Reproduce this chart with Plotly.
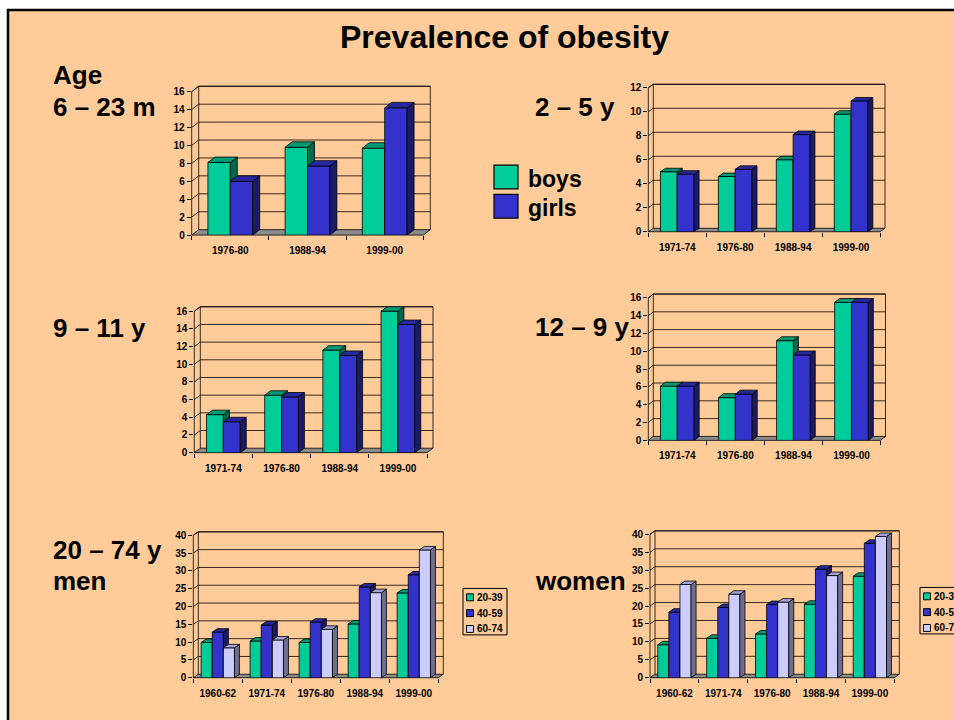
import plotly.graph_objects as go

W, H = 954, 720
BG = "#FFCC99"
FONT = "Liberation Sans, Arial, sans-serif"

# ---------------- data ----------------
cat_623m = ["1976-80", "1988-94", "1999-00"]
boys_623m = [8.1, 9.8, 9.7]
girls_623m = [6.0, 7.7, 14.2]

cat_child = ["1971-74", "1976-80", "1988-94", "1999-00"]
boys_25y = [5.0, 4.6, 6.0, 9.8]
girls_25y = [4.8, 5.2, 8.1, 10.9]

boys_911y = [4.3, 6.5, 11.6, 16.0]
girls_911y = [3.5, 6.3, 11.0, 14.5]

boys_1219y = [6.1, 4.8, 11.2, 15.5]
girls_1219y = [6.1, 5.2, 9.6, 15.5]

cat_adult = ["1960-62", "1971-74", "1976-80", "1988-94", "1999-00"]
men_2039 = [9.9, 10.3, 9.9, 15.1, 23.8]
men_4059 = [12.8, 14.8, 15.6, 25.5, 28.9]
men_6074 = [8.4, 10.6, 13.6, 23.9, 35.9]
women_2039 = [9.2, 11.0, 12.2, 20.5, 28.3]
women_4059 = [18.3, 19.6, 20.4, 30.3, 37.5]
women_6074 = [26.0, 23.3, 21.1, 28.5, 39.4]

child_names = ["boys", "girls"]
adult_names = ["20-39", "40-59", "60-74"]

# ---------------- styles ----------------
GREEN = dict(front="#00CC99", top="#009973", side="#00664C")
BLUE = dict(front="#3333CC", top="#28289E", side="#1A1A66")
LAV = dict(front="#CCCCFF", top="#A3A3D6", side="#6E6E8F")

panels = [
    dict(cats=cat_623m, series=[boys_623m, girls_623m], names=child_names, colors=[GREEN, BLUE],
         X0=191.7, X1=423.3, Y0=235.7, YT=90.7, dx=7, dy=5.5, ymax=16, dtick=2, bw=0.29),
    dict(cats=cat_child, series=[boys_25y, girls_25y], names=child_names, colors=[GREEN, BLUE],
         X0=648.3, X1=880.0, Y0=232.3, YT=86.7, dx=5, dy=3.5, ymax=12, dtick=2, bw=0.29),
    dict(cats=cat_child, series=[boys_911y, girls_911y], names=child_names, colors=[GREEN, BLUE],
         X0=194.3, X1=427.0, Y0=455.7, YT=312.7, dx=6, dy=4.5, ymax=16, dtick=2, bw=0.29),
    dict(cats=cat_child, series=[boys_1219y, girls_1219y], names=child_names, colors=[GREEN, BLUE],
         X0=648.3, X1=880.5, Y0=443.3, YT=299.3, dx=5, dy=4, ymax=16, dtick=2, bw=0.29),
    dict(cats=cat_adult, series=[men_2039, men_4059, men_6074], names=adult_names, colors=[GREEN, BLUE, LAV],
         X0=193.3, X1=438.3, Y0=683.3, YT=539.3, dx=5, dy=3.5, ymax=40, dtick=5, bw=0.227),
    dict(cats=cat_adult, series=[women_2039, women_4059, women_6074], names=adult_names, colors=[GREEN, BLUE, LAV],
         X0=650.0, X1=894.3, Y0=683.3, YT=538.3, dx=5, dy=3.5, ymax=40, dtick=5, bw=0.227),
]


def px(x):
    return x / W


def py(y):
    return 1 - y / H


fig = go.Figure()
shapes = []
annotations = []

# slide background with frame
shapes.append(dict(type="rect", xref="paper", yref="paper", x0=px(8), x1=px(W + 10),
                   y0=py(8), y1=py(H + 10), fillcolor=BG, line=dict(color="black", width=2.5),
                   layer="below"))

tickfont = dict(family=FONT, size=10, color="black", weight="bold")
LW = 0.8
k = 0
for p in panels:
    n = len(p["cats"])
    ns = len(p["series"])
    X0, X1, Y0, YT, dx, dy, ymax = p["X0"], p["X1"], p["Y0"], p["YT"], p["dx"], p["dy"], p["ymax"]
    ppx = (X1 - X0) / n
    ppy = (Y0 - YT) / ymax
    ddx, ddy = dx / ppx, dy / ppy
    xr = [-0.5, n - 0.5 + ddx]
    yr = [0, ymax + ddy]
    dom_x = [px(X0), px(X1 + dx)]
    dom_y = [py(Y0), py(YT - dy)]
    ticks = list(range(0, ymax + 1, p["dtick"]))

    # floor
    shapes.append(dict(type="path", xref="paper", yref="paper", layer="below",
                       path=f"M{px(X0)},{py(Y0)} L{px(X1)},{py(Y0)} L{px(X1+dx)},{py(Y0-dy)} L{px(X0+dx)},{py(Y0-dy)} Z",
                       fillcolor="#8C8C8C", line=dict(color="black", width=LW)))
    # back wall outline
    shapes.append(dict(type="path", xref="paper", yref="paper", layer="below",
                       path=f"M{px(X0+dx)},{py(Y0-dy)} L{px(X0+dx)},{py(YT-dy)} L{px(X1+dx)},{py(YT-dy)} L{px(X1+dx)},{py(Y0-dy)}",
                       line=dict(color="black", width=LW)))
    # front axis line and left wall top
    shapes.append(dict(type="path", xref="paper", yref="paper", layer="below",
                       path=f"M{px(X0)},{py(Y0)} L{px(X0)},{py(YT)} L{px(X0+dx)},{py(YT-dy)}",
                       line=dict(color="black", width=LW)))
    # gridlines on back wall + side wall
    for t in ticks[1:]:
        yy = Y0 - t * ppy
        shapes.append(dict(type="path", xref="paper", yref="paper", layer="below",
                           path=f"M{px(X0)},{py(yy)} L{px(X0+dx)},{py(yy-dy)} L{px(X1+dx)},{py(yy-dy)}",
                           line=dict(color="black", width=LW)))

    base = None
    for s in range(ns):
        k += 1
        xa = "x" if k == 1 else f"x{k}"
        ya = "y" if k == 1 else f"y{k}"
        xkey = "xaxis" if k == 1 else f"xaxis{k}"
        ykey = "yaxis" if k == 1 else f"yaxis{k}"
        if s == 0:
            base = (xa, ya)
            fig.update_layout(**{
                xkey: dict(domain=dom_x, range=xr, anchor=ya, tickmode="array",
                           tickvals=list(range(n)), ticktext=p["cats"], ticks="outside",
                           ticklen=6, tickcolor="rgba(0,0,0,0)", showgrid=False, zeroline=False,
                           showline=False, tickfont=tickfont, fixedrange=True,
                           minor=dict(tickmode="array", tickvals=[i - 0.5 for i in range(n + 1)],
                                      ticks="outside", ticklen=4, tickcolor="black", tickwidth=1,
                                      showgrid=False)),
                ykey: dict(domain=dom_y, range=yr, anchor=xa, tickmode="array", tickvals=ticks,
                           ticks="outside", ticklen=4, tickcolor="black", tickwidth=1,
                           showgrid=False, zeroline=False, showline=False, tickfont=tickfont,
                           fixedrange=True),
            })
        else:
            fig.update_layout(**{
                xkey: dict(domain=dom_x, range=xr, anchor=ya, overlaying=base[0], visible=False,
                           fixedrange=True),
                ykey: dict(domain=dom_y, range=yr, anchor=xa, overlaying=base[1], visible=False,
                           fixedrange=True),
            })
        vals = p["series"][s]
        col = p["colors"][s]
        bw = p["bw"]
        offs = (s - (ns - 1) / 2) * bw
        xs = [i + offs for i in range(n)]
        fig.add_trace(go.Bar(x=xs, y=vals, width=bw, xaxis=xa, yaxis=ya, name=p["names"][s],
                             marker=dict(color=col["front"], line=dict(color="black", width=LW)),
                             showlegend=False))
        tx, ty, sx, sy = [], [], [], []
        for xc, v in zip(xs, vals):
            l, r = xc - bw / 2, xc + bw / 2
            tx += [l, r, r + ddx, l + ddx, l, None]
            ty += [v, v, v + ddy, v + ddy, v, None]
            sx += [r, r + ddx, r + ddx, r, r, None]
            sy += [0, ddy, v + ddy, v, 0, None]
        fig.add_trace(go.Scatter(x=sx, y=sy, xaxis=xa, yaxis=ya, mode="lines", fill="toself",
                                 fillcolor=col["side"], line=dict(color="black", width=LW),
                                 showlegend=False, hoverinfo="skip"))
        fig.add_trace(go.Scatter(x=tx, y=ty, xaxis=xa, yaxis=ya, mode="lines", fill="toself",
                                 fillcolor=col["top"], line=dict(color="black", width=LW),
                                 showlegend=False, hoverinfo="skip"))


def text(x, y, s, size, anchor="left"):
    annotations.append(dict(x=px(x), y=py(y), xref="paper", yref="paper", text=s, showarrow=False,
                            xanchor=anchor, yanchor="middle",
                            font=dict(family=FONT, size=size, color="black", weight="bold")))


text(504, 35, "Prevalence of obesity", 32, "center")
text(51, 74, "Age", 26)
text(51, 106, "6 – 23 m", 26)
text(533, 106, "2 – 5 y", 26)
text(51, 330, "9 – 11 y", 26)
text(533, 329, "12 – 9 y", 26)
text(51, 554, "20 – 74 y", 26)
text(51, 586, "men", 26)
text(533, 586, "women", 26)

# big legend (boys / girls)
for i, (nm, col) in enumerate(zip(child_names, [GREEN, BLUE])):
    y0 = 165 + i * 29.5
    shapes.append(dict(type="rect", xref="paper", yref="paper", x0=px(494), x1=px(518),
                       y0=py(y0), y1=py(y0 + 24), fillcolor=col["front"],
                       line=dict(color="black", width=1.2)))
    text(526, y0 + 14, nm, 23)

# small legends
for lx, ly in [(463, 593), (920, 592)]:
    shapes.append(dict(type="rect", xref="paper", yref="paper", x0=px(lx), x1=px(lx + 44),
                       y0=py(ly), y1=py(ly + 47), fillcolor=BG, line=dict(color="black", width=1)))
    for i, (nm, col) in enumerate(zip(adult_names, [GREEN, BLUE, LAV])):
        cy = ly + 9 + i * 16
        shapes.append(dict(type="rect", xref="paper", yref="paper", x0=px(lx + 3.5), x1=px(lx + 10.5),
                           y0=py(cy - 3.5), y1=py(cy + 3.5), fillcolor=col["front"],
                           line=dict(color="black", width=1)))
        text(lx + 12, cy, nm, 10)

fig.update_layout(width=W, height=H, margin=dict(l=0, r=0, t=0, b=0),
                  paper_bgcolor="white", plot_bgcolor="rgba(0,0,0,0)",
                  barmode="overlay", shapes=shapes, annotations=annotations,
                  showlegend=False)

fig.write_html("out.html")
